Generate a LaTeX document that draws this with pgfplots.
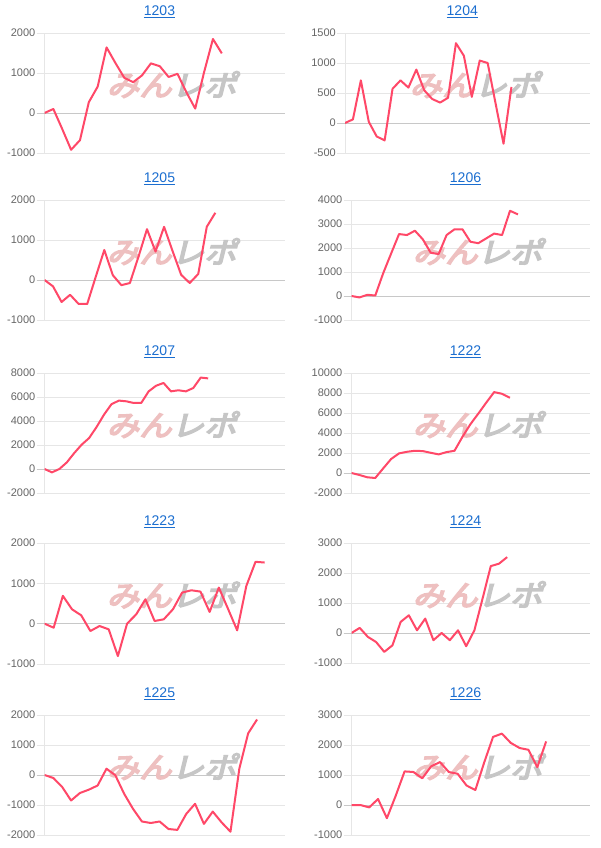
\documentclass[border=0pt]{standalone}
\usepackage{pgfplots}
\pgfplotsset{compat=1.18}
\usepackage{fontspec}
\setmainfont{Liberation Sans}
\newfontfamily\cjk[FakeSlant=0.22,FakeBold=5]{Noto Sans CJK JP}
\definecolor{gridgray}{RGB}{230,230,230}
\definecolor{zerogray}{RGB}{200,200,200}
\definecolor{labgray}{RGB}{102,102,102}
\definecolor{linkblue}{RGB}{27,110,208}
\definecolor{linered}{RGB}{255,72,104}
\definecolor{wmpink}{RGB}{238,192,192}
\definecolor{wmgray}{RGB}{198,198,198}
\newcommand\ul[1]{\setbox0\hbox{#1}\rlap{\rule[-2.6pt]{\wd0}{0.9pt}}\box0}
\newcommand\wm{\node[xscale=1.12] at (rel axis cs:0.53,0.57) {\cjk\fontsize{29}{29}\selectfont\textcolor{wmpink}{みん}\textcolor{wmgray}{レポ}};}
\pgfplotsset{
  pl/.style={linered, line width=2pt, line join=round, mark=none},
  panel/.style={
    scale only axis, width=240pt, height=120pt, anchor=south west,
    xmin=0, axis x line=none, axis y line=left,
    y axis line style={-, draw=gridgray, line width=0.8pt},
    ymajorgrids, grid style={draw=gridgray, line width=0.8pt},
    major tick length=8pt, tick align=outside,
    ytick style={draw=gridgray, line width=0.8pt},
    yticklabel style={font=\fontsize{11}{13}\selectfont, text=labgray, inner xsep=1pt},
    /pgf/number format/assume math mode=true,
    /pgf/number format/1000 sep={},
    scaled y ticks=false,
    extra y ticks={0}, extra y tick labels={},
    extra y tick style={grid style={draw=zerogray, line width=0.8pt}, ytick style={draw=zerogray, line width=0.8pt}},
    title style={font=\fontsize{14}{16}\selectfont, text=linkblue, at={(0.5,1)}, anchor=base, yshift=11.5pt, xshift=-5pt},
  }
}
\begin{document}
\begin{tikzpicture}
\path[use as bounding box, fill=white] (0pt,0pt) rectangle (600pt,848pt);
% row 1
\begin{axis}[panel, at={(44.5pt,695pt)}, xmax=27.07, ymin=-1000, ymax=2000, ytick={-1000,0,1000,2000}, title={\ul{1203}}]
\wm
\addplot[pl] coordinates {(0,0)(1,100)(2,-400)(3,-920)(4,-680)(5,270)(6,660)(7,1640)(8,1250)(9,880)(10,770)(11,940)(12,1240)(13,1170)(14,900)(15,980)(16,520)(17,110)(18,1020)(19,1850)(20,1490)};
\end{axis}
\begin{axis}[panel, at={(345pt,695pt)}, width=244.5pt, xmax=30.85, ymin=-500, ymax=1500, ytick={-500,0,500,1000,1500}, title={\ul{1204}}]
\wm
\addplot[pl] coordinates {(0,0)(1,60)(2,710)(3,20)(4,-225)(5,-290)(6,570)(7,710)(8,590)(9,890)(10,545)(11,400)(12,340)(13,420)(14,1330)(15,1120)(16,435)(17,1040)(18,1000)(19,325)(20,-345)(21,600)};
\end{axis}
% row 2
\begin{axis}[panel, at={(44.5pt,528pt)}, xmax=28.1, ymin=-1000, ymax=2000, ytick={-1000,0,1000,2000}, title={\ul{1205}}]
\wm
\addplot[pl] coordinates {(0,0)(1,-160)(2,-550)(3,-370)(4,-600)(5,-600)(6,80)(7,750)(8,120)(9,-130)(10,-75)(11,580)(12,1270)(13,710)(14,1330)(15,720)(16,130)(17,-75)(18,150)(19,1330)(20,1680)};
\end{axis}
\begin{axis}[panel, at={(351.5pt,528pt)}, width=238pt, xmax=30.03, ymin=-1000, ymax=4000, ytick={-1000,0,1000,2000,3000,4000}, title={\ul{1206}}]
\wm
\addplot[pl] coordinates {(0,0)(1,-60)(2,50)(3,20)(4,950)(5,1770)(6,2580)(7,2540)(8,2720)(9,2360)(10,1800)(11,1750)(12,2540)(13,2780)(14,2780)(15,2260)(16,2200)(17,2400)(18,2600)(19,2540)(20,3550)(21,3400)};
\end{axis}
% row 3
\begin{axis}[panel, at={(44.5pt,355pt)}, xmax=32.26, ymin=-2000, ymax=8000, ytick={-2000,0,2000,4000,6000,8000}, title={\ul{1207}}]
\wm
\addplot[pl] coordinates {(0,0)(1,-280)(2,0)(3,550)(4,1330)(5,2030)(6,2580)(7,3500)(8,4530)(9,5400)(10,5700)(11,5640)(12,5500)(13,5500)(14,6470)(15,6940)(16,7170)(17,6470)(18,6560)(19,6470)(20,6750)(21,7620)(22,7550)};
\end{axis}
\begin{axis}[panel, at={(351.5pt,355pt)}, width=238pt, xmax=30.04, ymin=-2000, ymax=10000, ytick={-2000,0,2000,4000,6000,8000,10000}, title={\ul{1222}}]
\wm
\addplot[pl] coordinates {(0,0)(1,-200)(2,-430)(3,-500)(4,460)(5,1400)(6,1960)(7,2120)(8,2220)(9,2190)(10,2020)(11,1860)(12,2090)(13,2220)(14,3610)(15,4870)(16,5930)(17,7030)(18,8090)(19,7920)(20,7520)};
\end{axis}
% row 4
\begin{axis}[panel, at={(44.5pt,184pt)}, height=121pt, xmax=26.16, ymin=-1000, ymax=2000, ytick={-1000,0,1000,2000}, title={\ul{1223}}]
\wm
\addplot[pl] coordinates {(0,0)(1,-100)(2,690)(3,356)(4,207)(5,-182)(6,-58)(7,-141)(8,-804)(9,0)(10,232)(11,605)(12,66)(13,108)(14,356)(15,770)(16,828)(17,795)(18,290)(19,895)(20,370)(21,-166)(22,936)(23,1533)(24,1516)};
\end{axis}
\begin{axis}[panel, at={(351.5pt,185pt)}, width=238pt, xmax=29.05, ymin=-1000, ymax=3000, ytick={-1000,0,1000,2000,3000}, title={\ul{1224}}]
\wm
\addplot[pl] coordinates {(0,0)(1,170)(2,-130)(3,-300)(4,-630)(5,-410)(6,370)(7,590)(8,90)(9,480)(10,-240)(11,0)(12,-240)(13,90)(14,-440)(15,90)(16,1150)(17,2230)(18,2310)(19,2530)};
\end{axis}
% row 5
\begin{axis}[panel, at={(44.5pt,13pt)}, xmax=27.1, ymin=-2000, ymax=2000, ytick={-2000,-1000,0,1000,2000}, title={\ul{1225}}]
\wm
\addplot[pl] coordinates {(0,0)(1,-100)(2,-400)(3,-850)(4,-600)(5,-490)(6,-350)(7,210)(8,-10)(9,-630)(10,-1130)(11,-1550)(12,-1600)(13,-1550)(14,-1800)(15,-1830)(16,-1300)(17,-960)(18,-1630)(19,-1220)(20,-1580)(21,-1890)(22,210)(23,1390)(24,1850)};
\end{axis}
\begin{axis}[panel, at={(351.5pt,13pt)}, width=238pt, xmax=26.9, ymin=-1000, ymax=3000, ytick={-1000,0,1000,2000,3000}, title={\ul{1226}}]
\wm
\addplot[pl] coordinates {(0,0)(1,0)(2,-80)(3,200)(4,-440)(5,310)(6,1120)(7,1100)(8,890)(9,1290)(10,1430)(11,1100)(12,1040)(13,650)(14,500)(15,1420)(16,2270)(17,2380)(18,2070)(19,1900)(20,1840)(21,1260)(22,2120)};
\end{axis}
\end{tikzpicture}
\end{document}
